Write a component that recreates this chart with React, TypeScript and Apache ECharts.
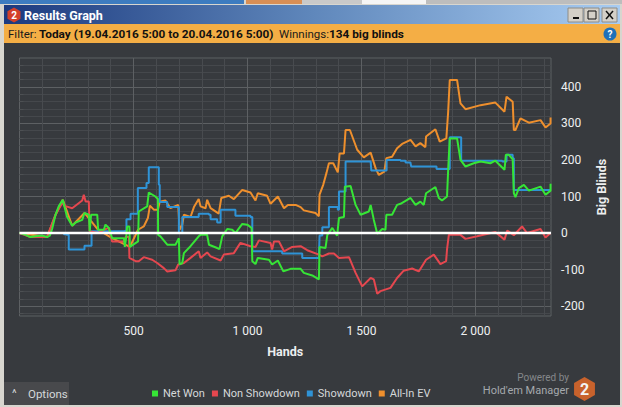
import { useEffect, useRef } from "react";
import * as echarts from "echarts";

// [hand, big blinds]
const netWon: [number, number][] = [
  [0, 0], [4, 0], [26, -5], [48, -11], [70, -9], [99, -7], [121, -11], [133, -7], [143, 11], [158, 50], [172, 73], [190, 91],
  [199, 68], [209, 44], [231, 20], [246, 29], [275, 36], [285, 55], [304, 50], [308, 5], [314, 50], [341, 50], [345, 9],
  [370, 9], [377, 23], [392, 14], [406, -14], [458, -14], [462, -38], [468, -11], [472, 18], [482, 18], [484, -38], [520, -23],
  [523, 59], [560, 73], [567, 111], [596, 100], [607, 93], [608, -5], [618, -9], [648, -32], [684, -32], [699, -14], [702, -86],
  [714, -82], [721, -55], [750, -36], [786, -9], [794, -5], [823, -5], [831, -32], [867, -41], [877, -44], [889, -9], [911, 11],
  [933, 9], [947, 0], [977, 25], [999, 23], [1018, 14], [1021, -77], [1035, -85], [1045, -68], [1094, -73], [1108, -86],
  [1133, -75], [1157, -105], [1189, -98], [1233, -98], [1247, -109], [1284, -116], [1313, -127], [1316, -38], [1342, -41],
  [1350, -5], [1372, 14], [1393, -7], [1401, 41], [1423, 44], [1427, 127], [1452, 129], [1474, 77], [1496, 50], [1532, 59],
  [1540, 77], [1554, 36], [1569, -2], [1591, 11], [1605, 9], [1609, 50], [1634, 50], [1656, 77], [1671, 80], [1715, 96],
  [1737, 77], [1758, 86], [1773, 77], [1783, 109], [1824, 126], [1839, 96], [1853, 89], [1875, 100], [1880, 173], [1887, 259],
  [1919, 259], [1934, 200], [1956, 182], [1992, 191], [2022, 196], [2065, 191], [2087, 198], [2127, 173], [2133, 214],
  [2146, 214], [2163, 202], [2168, 109], [2175, 98], [2190, 123], [2212, 132], [2234, 116], [2285, 127], [2307, 105],
  [2329, 116], [2329, 135],
];

const nonShowdown: [number, number][] = [
  [0, 0], [48, -11], [121, -11], [158, 50], [190, 85], [195, 75], [231, 68], [275, 89], [282, 105], [290, 86], [304, 86],
  [308, 5], [344, 0], [370, 9], [392, 14], [406, -23], [458, -23], [465, -11], [480, -11], [482, -68], [509, -77], [523, -77],
  [545, -66], [582, -73], [604, -82], [633, -96], [648, -105], [684, -102], [696, -86], [721, -82], [750, -68], [786, -50],
  [794, -68], [823, -53], [838, -64], [882, -75], [896, -59], [940, -55], [969, -27], [1013, -36], [1035, -38], [1050, -20],
  [1101, -27], [1108, -45], [1116, -23], [1138, -23], [1160, -50], [1196, -38], [1233, -36], [1262, -47], [1313, -59],
  [1328, -64], [1357, -56], [1379, -56], [1401, -68], [1445, -66], [1474, -109], [1503, -146], [1540, -123], [1554, -127],
  [1569, -166], [1583, -159], [1627, -150], [1656, -123], [1685, -103], [1722, -97], [1751, -105], [1783, -73], [1817, -59],
  [1846, -85], [1871, -77], [1875, -45], [1883, -5], [1934, -5], [1956, -16], [2007, -9], [2087, 3], [2127, -18], [2139, 7],
  [2168, -6], [2204, 18], [2226, 0], [2285, 11], [2307, -12], [2329, 0],
];

const showdown: [number, number][] = [
  [0, 0], [195, -3], [206, -5], [216, -45], [275, -45], [285, -35], [316, -35], [316, 5], [458, 6], [469, 38], [487, 53],
  [519, 53], [519, 123], [557, 137], [567, 180], [607, 180], [611, 132], [615, 85], [648, 71], [687, 71], [699, 0], [714, 44],
  [750, 44], [786, 53], [831, 50], [838, 38], [867, 29], [882, 64], [940, 64], [947, 47], [1013, 44], [1021, -50], [1145, -50],
  [1152, -56], [1233, -56], [1240, -68], [1313, -68], [1316, -7], [1328, 16], [1347, 16], [1357, 71], [1396, 64], [1401, 114],
  [1423, 114], [1430, 196], [1540, 196], [1543, 171], [1598, 171], [1610, 200], [1671, 198], [1693, 193], [1715, 191],
  [1718, 182], [1824, 182], [1829, 175], [1883, 175], [1887, 262], [1919, 262], [1937, 198], [2117, 196], [2136, 214],
  [2163, 205], [2168, 118], [2329, 118],
];

const allInEv: [number, number][] = [
  [0, 0], [121, -11], [158, 50], [190, 91], [231, 20], [285, 55], [345, 9], [406, -14], [484, -38], [520, 9], [545, 18],
  [563, 41], [572, 75], [589, 64], [607, 64], [615, 86], [640, 89], [662, 68], [696, 77], [702, 9], [714, 23], [721, 50],
  [750, 44], [765, 71], [786, 93], [794, 73], [816, 68], [823, 91], [838, 68], [874, 53], [885, 96], [918, 102], [940, 93],
  [977, 118], [1013, 111], [1035, 89], [1045, 109], [1086, 102], [1101, 80], [1133, 100], [1160, 68], [1177, 77], [1211, 77],
  [1233, 71], [1247, 62], [1298, 55], [1313, 46], [1316, 105], [1332, 132], [1347, 166], [1357, 191], [1376, 191], [1396, 166],
  [1404, 218], [1423, 218], [1430, 282], [1449, 282], [1481, 228], [1510, 207], [1540, 220], [1562, 177], [1576, 159],
  [1600, 168], [1609, 205], [1634, 209], [1656, 232], [1678, 244], [1715, 255], [1737, 237], [1758, 246], [1780, 235],
  [1783, 264], [1824, 284], [1843, 250], [1872, 259], [1880, 332], [1887, 419], [1919, 419], [1934, 355], [1956, 339],
  [2022, 350], [2087, 357], [2127, 332], [2136, 373], [2163, 359], [2168, 282], [2175, 282], [2197, 314], [2234, 302],
  [2285, 309], [2307, 289], [2329, 300], [2329, 316],
];

const zeroLine: [number, number][] = [[0, 0], [2331, 0]];

const handTicks = [500, 1000, 1500, 2000];
const handMinorTicks = [100, 200, 300, 400, 600, 700, 800, 900, 1100, 1200, 1300, 1400, 1600, 1700, 1800, 1900, 2100, 2200, 2300];
const blindTicks = [-200, -100, 0, 100, 200, 300, 400];
const blindMinorTicks = [
  -220, -180, -160, -140, -120, -80, -60, -40, -20, 20, 40, 60, 80, 120, 140, 160, 180, 220, 240, 260, 280, 320, 340, 360, 380, 420, 440, 460,
];

const seriesNames = ["Net Won", "Non Showdown", "Showdown", "All-In EV"];

const FONT = "Roboto";
const hexagon = (cx: number, cy: number, r: number) => [
  [cx, cy - r], [cx + r * 0.87, cy - r / 2], [cx + r * 0.87, cy + r / 2], [cx, cy + r], [cx - r * 0.87, cy + r / 2], [cx - r * 0.87, cy - r / 2],
];

const label = (x: number, y: number, text: string, fill: string, fontSize = 12, fontWeight = "normal", align = "left") => ({
  type: "text",
  x,
  y,
  z: 20,
  style: { text, fill, fontSize, fontWeight, fontFamily: FONT, align, verticalAlign: "middle" },
});

const box = (x: number, y: number, width: number, height: number, fill: any, stroke?: string) => ({
  type: "rect",
  z: -10,
  shape: { x, y, width, height },
  style: { fill, stroke },
});

const winButton = (x: number) => box(x, 8, 15, 14, "#d4d0c8", "#8e8c86");

export default function App() {
  const ref = useRef<HTMLDivElement>(null);

  useEffect(() => {
    const chart = echarts.init(ref.current!, null, { renderer: "svg" });
    const line = (name: string, data: [number, number][], color: string, z: number, step: any = false) => ({
      name,
      type: "line",
      data,
      z,
      step,
      symbol: "none",
      smooth: false,
      lineStyle: { color, width: 2 },
      itemStyle: { color },
    });

    chart.setOption({
      animation: false,
      backgroundColor: "#d8d6cf",
      textStyle: { fontFamily: FONT },
      grid: { left: 19.5, right: 71, top: 58, bottom: 91, show: true, borderColor: "#5d6063", borderWidth: 1, backgroundColor: "transparent" },
      legend: {
        data: seriesNames,
        left: 147,
        top: 383,
        icon: "rect",
        itemWidth: 6,
        itemHeight: 6,
        itemGap: 7,
        textStyle: { color: "#d5d8da", fontSize: 11, fontFamily: FONT },
        selectedMode: false,
      },
      xAxis: [
        {
          type: "value",
          min: 0,
          max: 2331,
          name: "Hands",
          nameLocation: "middle",
          nameGap: 29,
          nameTextStyle: { color: "#eceeef", fontWeight: "bold", fontSize: 12.5, fontFamily: FONT },
          axisLine: { show: false },
          axisTick: { show: true, length: 5, lineStyle: { color: "#5d6063" }, customValues: handTicks },
          axisLabel: { color: "#eef0f1", fontSize: 12, margin: 9, customValues: handTicks, formatter: (v: number) => (v >= 1000 ? `${Math.floor(v / 1000)} ${String(v % 1000).padStart(3, "0")}` : `${v}`) },
          splitLine: { show: true, lineStyle: { color: "#5d6063", width: 1 } },
        },
        {
          type: "value",
          min: 0,
          max: 2331,
          position: "bottom",
          axisLine: { show: false },
          axisLabel: { show: false },
          axisTick: { show: true, length: 5, lineStyle: { color: "#4d5053" }, customValues: handMinorTicks },
          splitLine: { show: true, lineStyle: { color: "#484b4f", width: 1 } },
        },
      ],
      yAxis: [
        {
          type: "value",
          min: -227,
          max: 479,
          position: "right",
          name: "Big Blinds",
          nameLocation: "middle",
          nameRotate: 90,
          nameGap: 38,
          nameTextStyle: { color: "#eceeef", fontWeight: "bold", fontSize: 12.5, fontFamily: FONT },
          axisLine: { show: false },
          axisTick: { show: true, length: 9, lineStyle: { color: "#5d6063" }, customValues: blindTicks },
          axisLabel: { color: "#eef0f1", fontSize: 12, margin: 10, customValues: blindTicks },
          splitLine: { show: true, lineStyle: { color: "#5d6063", width: 1 } },
        },
        {
          type: "value",
          min: -227,
          max: 479,
          position: "right",
          axisLine: { show: false },
          axisLabel: { show: false },
          axisTick: { show: true, length: 4, lineStyle: { color: "#4d5053" }, customValues: blindMinorTicks },
          splitLine: { show: true, lineStyle: { color: "#45484c", width: 1 } },
        },
      ],
      series: [
        line(seriesNames[3], allInEv, "#ee8f2d", 3),
        line(seriesNames[2], showdown, "#2f93d6", 4, "end"),
        line(seriesNames[1], nonShowdown, "#e5474f", 5),
        line(seriesNames[0], netWon, "#36e536", 6),
        { type: "line", data: zeroLine, z: 8, symbol: "none", silent: true, lineStyle: { color: "#ffffff", width: 2.5 } },
      ],
      graphic: [
        // window chrome behind the plot
        box(0, 0, 244, 4, "#3d7cc0"),
        box(246, 0, 56, 4, "#d98f55"),
        box(302, 0, 60, 4, "#c9c9c9"),
        box(362, 0, 64, 4, "#f5f5f5"),
        box(426, 0, 196, 4, "#bdbdbd"),
        box(4, 5, 616, 19, new echarts.graphic.LinearGradient(0, 0, 1, 0, [
          { offset: 0, color: "#1c3a7f" },
          { offset: 0.5, color: "#5f87bb" },
          { offset: 1, color: "#a8ccf2" },
        ])),
        box(4, 24, 616, 19, "#f4ae45"),
        box(4, 43, 616, 362, "#373a3e"),
        box(4, 382, 65, 23, "#48494c"),
        { type: "polygon", z: 20, shape: { points: hexagon(14, 15, 7.5) }, style: { fill: "#d3402a" } },
        label(14, 15.5, "2", "#ffffff", 10, "bold", "center"),
        label(24, 15, "Results Graph", "#ffffff", 12.5, "bold"),
        winButton(568),
        winButton(584),
        winButton(602),
        { type: "rect", z: 20, shape: { x: 573, y: 17, width: 6, height: 2 }, style: { fill: "#111111" } },
        { type: "rect", z: 20, shape: { x: 588, y: 11, width: 8, height: 8 }, style: { fill: "none", stroke: "#111111", lineWidth: 1 } },
        { type: "line", z: 20, shape: { x1: 606, y1: 11, x2: 613, y2: 19 }, style: { stroke: "#111111", lineWidth: 1.5 } },
        { type: "line", z: 20, shape: { x1: 613, y1: 11, x2: 606, y2: 19 }, style: { stroke: "#111111", lineWidth: 1.5 } },
        label(8, 33.5, "Filter:", "#1a1a1a", 11.5),
        label(39, 33.5, "Today (19.04.2016 5:00 to 20.04.2016 5:00)", "#111111", 11.8, "bold"),
        label(279, 33.5, "Winnings:", "#1a1a1a", 11.5),
        label(329, 33.5, "134 big blinds", "#111111", 11.8, "bold"),
        { type: "circle", z: 20, shape: { cx: 610, cy: 34, r: 6.5 }, style: { fill: "#1f70b8" } },
        label(610, 34, "?", "#ffffff", 10, "bold", "center"),
        label(12, 393, "^", "#d5d8da", 11),
        label(28, 394, "Options", "#d5d8da", 11.5),
        label(569, 377.5, "Powered by", "#85888b", 10, "normal", "right"),
        label(569, 390, "Hold'em Manager", "#a5a9ad", 11, "normal", "right"),
        { type: "polygon", z: 20, shape: { points: hexagon(584.5, 389, 12) }, style: { fill: "#c8622c" } },
        label(584.5, 389.5, "2", "#f3f3f3", 16, "bold", "center"),
      ],
    });
    return () => chart.dispose();
  }, []);

  return <div ref={ref} style={{ position: "fixed", left: 0, top: 0, width: 622, height: 407 }} />;
}
